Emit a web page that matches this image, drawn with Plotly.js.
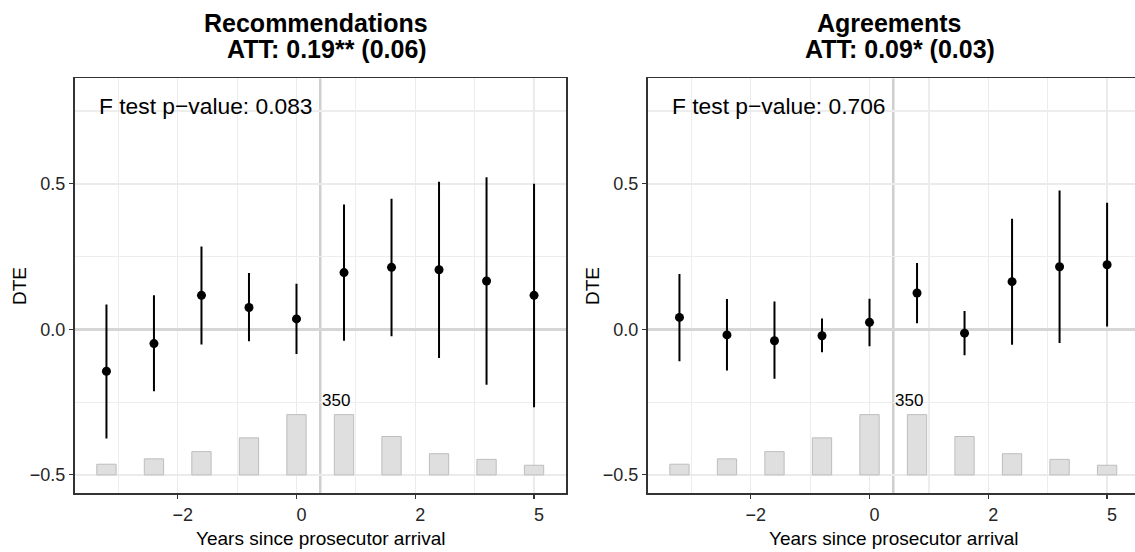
<!DOCTYPE html>
<html>
<head>
<meta charset="utf-8">
<script src="https://cdn.plot.ly/plotly-3.0.1.min.js"></script>
<style>
html,body{margin:0;padding:0;background:#fff;}
#chart{width:1135px;height:552px;}
</style>
</head>
<body>
<div id="chart"></div>
<script>
// ---- data ----
const eventTime = [-3.2, -2.4, -1.6, -0.8, 0, 0.8, 1.6, 2.4, 3.2, 4.0];
const xTickVals = [-2, 0, 2, 4];
const xTickText = ["\u22122", "0", "2", "5"];
const yTickVals = [-0.5, 0, 0.5];
const yTickText = ["\u22120.5", "0.0", "0.5"];

// Recommendations panel
const recEst   = [-0.144, -0.049, 0.117, 0.075, 0.036, 0.195, 0.213, 0.205, 0.166, 0.117];
const recUpper = [0.085, 0.117, 0.285, 0.194, 0.157, 0.429, 0.449, 0.507, 0.523, 0.500];
const recLower = [-0.375, -0.213, -0.052, -0.041, -0.085, -0.039, -0.024, -0.098, -0.190, -0.268];
const recCounts = [62, 93, 135, 215, 350, 350, 223, 123, 90, 56];

// Agreements panel
const agrEst   = [0.041, -0.019, -0.039, -0.022, 0.024, 0.125, -0.013, 0.164, 0.215, 0.222];
const agrUpper = [0.190, 0.104, 0.096, 0.037, 0.105, 0.228, 0.063, 0.380, 0.477, 0.435];
const agrLower = [-0.110, -0.141, -0.170, -0.079, -0.058, 0.021, -0.089, -0.053, -0.047, 0.010];
const agrCounts = [62, 93, 135, 215, 350, 350, 223, 123, 90, 56];

const titles = ["Recommendations", "Agreements"];
const attText = [" ATT: 0.19** (0.06)", " ATT: 0.09* (0.03)"];
const fTestText = ["F test p\u2212value: 0.083", "F test p\u2212value: 0.706"];
const maxCountLabel = "350";
const xTitle = "Years since prosecutor arrival";
const yTitle = "DTE";
const arrivalLine = 0.4;

// ---- drawing ----
const FONT = "Liberation Sans, Arial, Helvetica, sans-serif";
const barBase = -0.5;
const barScale = 0.207 / 350; // counts -> DTE units for the histogram strip

function panel(est, up, lo, counts, xa, ya) {
  const bars = {
    type: "bar", x: eventTime, y: counts.map(c => c * barScale), base: barBase,
    width: 0.325, xaxis: xa, yaxis: ya,
    marker: {color: "#dfdfdf", line: {color: "#bdbdbd", width: 1}},
    hoverinfo: "skip", showlegend: false
  };
  const pts = {
    type: "scatter", mode: "markers", x: eventTime, y: est, xaxis: xa, yaxis: ya,
    marker: {color: "#000", size: 9},
    error_y: {type: "data", symmetric: false,
      array: up.map((u, i) => u - est[i]),
      arrayminus: lo.map((l, i) => est[i] - l),
      color: "#000", thickness: 2, width: 0},
    showlegend: false
  };
  return [bars, pts];
}

const data = [
  ...panel(recEst, recUpper, recLower, recCounts, "x", "y"),
  ...panel(agrEst, agrUpper, agrLower, agrCounts, "x2", "y2")
];

const TICKCOL = "#262626";
function xax(domain, range) {
  return {
    domain: domain, range: range, tickmode: "array", tickvals: xTickVals, ticktext: xTickText,
    showgrid: true, gridcolor: "#ebebeb", gridwidth: 1.5, zeroline: false,
    minor: {tickmode: "array", tickvals: [-3, -1, 1, 3, 5], showgrid: true, gridcolor: "#ededed", gridwidth: 1.2, ticklen: 0},
    showline: true, linecolor: "#333", linewidth: 1.5, mirror: true,
    ticks: "outside", ticklen: 4, tickcolor: "#333", tickwidth: 1.2, ticklabelshift: 5,
    tickfont: {family: FONT, size: 18, color: TICKCOL}, fixedrange: true
  };
}
function yax(anchor, mirror) {
  return {
    domain: [0.10598, 0.8578], range: [-0.564, 0.862], anchor: anchor,
    tickmode: "array", tickvals: yTickVals, ticktext: yTickText,
    showgrid: true, gridcolor: "#ebebeb", gridwidth: 1.5,
    minor: {tickmode: "array", tickvals: [-0.25, 0.25, 0.75], showgrid: true, gridcolor: "#ededed", gridwidth: 1.2, ticklen: 0},
    zeroline: true, zerolinecolor: "#d6d6d6", zerolinewidth: 3.5,
    showline: true, linecolor: "#333", linewidth: 1.5, mirror: mirror,
    ticks: "outside", ticklen: 4, tickcolor: "#333", tickwidth: 1.2,
    tickfont: {family: FONT, size: 18, color: TICKCOL}, fixedrange: true
  };
}

const W = 1135, H = 552;
const px = v => v / W, py = v => 1 - v / H;
const offset = 573;

const annotations = [];
[0, 1].forEach(i => {
  const dx = i * offset;
  const xr = i === 0 ? "x" : "x2", yr = i === 0 ? "y" : "y2";
  annotations.push({xref: "paper", yref: "paper", x: px(316 + dx), y: py(23), xanchor: "center", yanchor: "middle",
    text: "<b>" + titles[i] + "</b>", showarrow: false, font: {family: FONT, size: 25, color: "#000"}});
  annotations.push({xref: "paper", yref: "paper", x: px(324 + dx), y: py(48.5), xanchor: "center", yanchor: "middle",
    text: "<b>" + attText[i] + "</b>", showarrow: false, font: {family: FONT, size: 25, color: "#000"}});
  annotations.push({xref: xr, yref: yr, x: -3.36, y: 0.769, xanchor: "left", yanchor: "middle",
    text: fTestText[i], showarrow: false, font: {family: FONT, size: 22.8, color: "#000"}});
  annotations.push({xref: xr, yref: yr, x: arrivalLine, y: -0.245, xanchor: "left", yanchor: "middle",
    text: maxCountLabel, showarrow: false, font: {family: FONT, size: 17, color: "#000"}});
  annotations.push({xref: "paper", yref: "paper", x: px(19 + dx), y: py(286), xanchor: "center", yanchor: "middle",
    text: yTitle, textangle: -90, showarrow: false, font: {family: FONT, size: 19, color: "#000"}});
  annotations.push({xref: "paper", yref: "paper", x: px(320.5 + dx), y: py(538.5), xanchor: "center", yanchor: "middle",
    text: xTitle, showarrow: false, font: {family: FONT, size: 19, color: "#000"}});
});

const shapes = [
  {type: "line", xref: "x", yref: "y domain", x0: arrivalLine, x1: arrivalLine, y0: 0, y1: 1, layer: "below",
   line: {color: "#cfcfcf", width: 2.5}},
  {type: "line", xref: "x2", yref: "y2 domain", x0: arrivalLine, x1: arrivalLine, y0: 0, y1: 1, layer: "below",
   line: {color: "#cfcfcf", width: 2.5}}
];

const layout = {
  width: W, height: H, margin: {l: 0, r: 0, t: 0, b: 0, pad: 0},
  paper_bgcolor: "#fff", plot_bgcolor: "#fff",
  font: {family: FONT},
  showlegend: false, hovermode: false, barmode: "overlay",
  xaxis: xax([74.5 / W, 566 / W], [-3.738, 4.538]),
  yaxis: yax("x", true),
  xaxis2: Object.assign(xax([647.5 / W, 1], [-3.738, 4.470]), {anchor: "y2"}),
  yaxis2: yax("x2", false),
  annotations: annotations,
  shapes: shapes
};
layout.xaxis.anchor = "y";

Plotly.newPlot("chart", data, layout, {staticPlot: true, displayModeBar: false});
</script>
</body>
</html>
